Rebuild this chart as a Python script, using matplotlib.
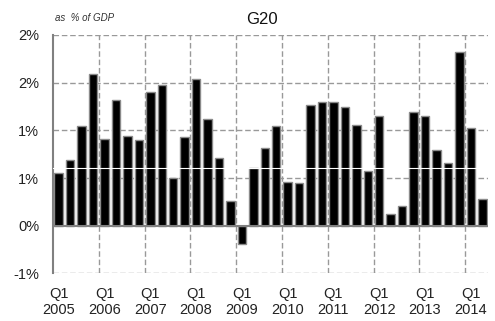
import matplotlib
matplotlib.use("Agg")
import matplotlib.pyplot as plt
import numpy as np

plt.rcParams['font.family'] = ['Liberation Sans', 'DejaVu Sans']

# quarterly values, Q1 2005 .. Q2 2014 (as % of GDP)
values = [0.55, 0.69, 1.05, 1.59,
          0.91, 1.32, 0.94, 0.90,
          1.40, 1.47, 0.50, 0.93,
          1.54, 1.12, 0.71, 0.26,
          -0.19, 0.61, 0.81, 1.05,
          0.46, 0.45, 1.26, 1.30,
          1.30, 1.24, 1.06, 0.57,
          1.15, 0.12, 0.21, 1.19,
          1.15, 0.79, 0.66, 1.82,
          1.02, 0.28]
years = ['2005', '2006', '2007', '2008', '2009', '2010',
         '2011', '2012', '2013', '2014']
ytick_vals = [-0.5, 0.0, 0.5, 1.0, 1.5, 2.0]
ytick_labels = ['-1%', '0%', '1%', '1%', '2%', '2%']

fig = plt.figure(figsize=(4.95, 3.21), dpi=100)
ax = fig.add_axes([53 / 495, 1 - 273.4 / 321, 435 / 495, (273.4 - 34.9) / 321])

x = np.arange(len(values))
ax.bar(x, values, width=0.74, color='black', edgecolor='#8a8a8a',
       linewidth=1.0, zorder=3)
# thin white line running through the bars
ax.axhline(0.6, color='white', lw=0.8, zorder=4)

ax.set_xlim(-0.5, len(values) - 0.5)
ax.set_ylim(-0.5, 2.0)

# grid
for yv in ytick_vals:
    if yv == 0:
        ax.axhline(yv, color='#808080', lw=1.5, zorder=5)
    else:
        ax.axhline(yv, color='#999999', lw=1.0, ls=(0, (4, 2)), zorder=1)
for gx in np.arange(3.5, len(values), 4):
    ax.axvline(gx, color='#999999', lw=1.0, ls=(0, (4, 2)), zorder=1)

ax.set_yticks(ytick_vals)
ax.set_yticklabels(ytick_labels, fontsize=10.5, color='#222222')
ax.set_xticks(np.arange(0, len(values), 4))
ax.set_xticklabels(['Q1\n' + y for y in years], fontsize=10.5,
                   color='#222222', linespacing=1.15)
ax.tick_params(length=0)
ax.tick_params(axis='x', pad=10)
ax.tick_params(axis='y', pad=10)

for s in ['top', 'right', 'bottom']:
    ax.spines[s].set_visible(False)
ax.spines['left'].set_color('#808080')
ax.spines['left'].set_linewidth(1.5)

fig.text(262 / 495, 1 - 20 / 321, 'G20', ha='center', va='center',
         fontsize=12, color='#111111')
fig.text(55 / 495, 1 - 18 / 321, 'as  % of GDP', ha='left', va='center',
         fontsize=7, style='italic', color='#333333')

fig.savefig('out.png', dpi=100)
